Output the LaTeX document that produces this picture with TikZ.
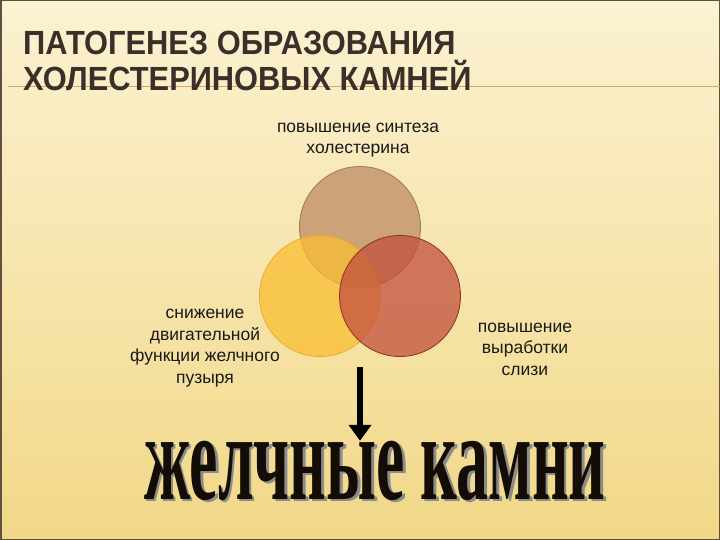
\documentclass[tikz,border=0pt]{standalone}
\usepackage{fontspec}
\setmainfont{Liberation Sans}
\newfontfamily\titlefont[FakeStretch=0.92]{Liberation Sans}
\newfontfamily\stonefont{Liberation Serif}
\usepackage{graphicx}
\usepackage{tikz}
\usetikzlibrary{positioning,calc,arrows.meta}

\definecolor{bgtop}{RGB}{252,242,210}
\definecolor{bgbot}{RGB}{241,216,135}
\definecolor{titlebrown}{RGB}{58,48,42}
\definecolor{ruleorange}{RGB}{215,165,100}
\definecolor{tanfill}{RGB}{190,140,100}
\definecolor{tanedge}{RGB}{165,118,85}
\definecolor{yellowfill}{RGB}{250,190,50}
\definecolor{yellowedge}{RGB}{230,170,60}
\definecolor{redfill}{RGB}{195,80,62}
\definecolor{rededge}{RGB}{140,50,40}
\definecolor{framegray}{RGB}{95,80,65}

\newcommand{\stoneword}{\scalebox{0.515}[1]{\fontsize{124}{124}\selectfont\stonefont\bfseries желчные камни}}
% shadow drawn under the word, in the same node
\newcommand{\stonetext}{\makebox[0pt][l]{\hspace{2.5pt}\raisebox{-2.5pt}{\color{black!45}\stoneword}}\stoneword}

\begin{document}
\begin{tikzpicture}[x=1pt,y=-1pt,
  venn/.style={circle, minimum size=121pt, inner sep=0pt, line width=0.8pt, fill opacity=0.75},
  label/.style={align=center, text=black!90, font=\fontsize{17.5}{21.5}\selectfont},
  heading/.style={anchor=base west, text=titlebrown, inner sep=0pt, font=\titlefont\bfseries\fontsize{33.5}{33.5}\selectfont}]

 \useasboundingbox (0,0) rectangle (720,540);
 \shade[top color=bgtop, bottom color=bgbot] (0,0) rectangle (720,540);
 \draw[framegray, line width=1.5pt] (0.75,0.75) rectangle (719.25,539.25);

 % title
 \draw[ruleorange, line width=0.9pt] (8,86) -- (720,86);
 \node[heading] (title1) at (23,55) {ПАТОГЕНЕЗ ОБРАЗОВАНИЯ};
 \node[heading] (title2) at (23,91) {ХОЛЕСТЕРИНОВЫХ КАМНЕЙ};

 % circles
 \node[venn, fill=tanfill, draw=tanedge] (topc) at (360,227) {};
 \node[venn, fill=yellowfill, draw=yellowedge] (leftc) at (320,296) {};
 \node[venn, fill=redfill, draw=rededge] (rightc) at (400,296) {};

 \node[label] (toplab) at (358,140) {повышение синтеза\\холестерина};
 \node[label] (leftlab) at (205,348) {снижение\\двигательной\\функции желчного\\пузыря};
 \node[label] (rightlab) at (525,349) {повышение\\выработки\\слизи};

 % result
 \node[text=black!90!brown, inner sep=0pt] (stones) at (375,472) {\stonetext};
 \coordinate (arrowtop) at (360,367);
 \draw[line width=6pt, -{Triangle[width=22pt,length=16pt]}] (arrowtop) -- (arrowtop |- stones.north);

\end{tikzpicture}
\end{document}
